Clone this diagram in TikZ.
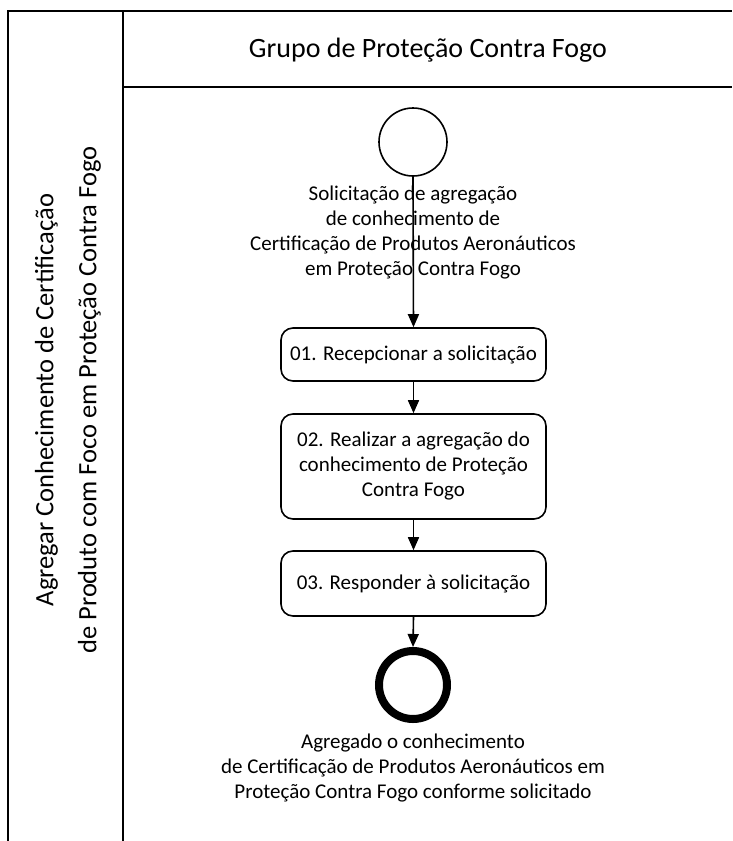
\documentclass[tikz,border=0pt]{standalone}
\usepackage{fontspec}
\setmainfont{Carlito}
\usetikzlibrary{arrows.meta}
\begin{document}
\begin{tikzpicture}[x=1pt,y=-1pt,
  lane/.style={line width=2pt},
  body/.style={font=\fontsize{21}{25}\selectfont, align=center},
  task/.style={draw, line width=1.6pt, rounded corners=12pt, minimum width=265pt, inner sep=0pt, body},
  flow/.style={line width=1.6pt, -{Triangle[length=13pt,width=11pt]}},
  startev/.style={draw, circle, line width=1.6pt, minimum size=68pt, inner sep=0pt},
  endev/.style={draw, circle, line width=8pt, minimum size=68pt, inner sep=0pt}
]
\useasboundingbox (0,0) rectangle (732,841);
% pool / lane frame
\coordinate (tl) at (8,11);
\coordinate (tr) at (732,11);
\coordinate (bl) at (8,841);
\coordinate (dt) at (123,11);
\coordinate (db) at (123,841);
\coordinate (hl) at (123,87);
\coordinate (hr) at (732,87);
\draw[lane] (bl) -- (tl) -- (tr);
\draw[lane] (dt) -- (db);
\draw[lane] (hl) -- (hr);
\node[font=\fontsize{28}{32}\selectfont] (hdr) at (428,50) {Grupo de Proteção Contra Fogo};
\node[rotate=90, align=center, font=\fontsize{26.5}{43}\selectfont] (lanelbl) at (68,400)
  {Agregar Conhecimento de Certificação\\de Produto com Foco em Proteção Contra Fogo};
% events and tasks
\node[startev] (start) at (413,142) {};
\node[body] (startlbl) at (413,233) {Solicitação de agregação\\de conhecimento de\\Certificação de Produtos Aeronáuticos\\em Proteção Contra Fogo};
\node[task, minimum height=53pt] (t1) at (413.5,354.5) {01. Recepcionar a solicitação};
\node[task, minimum height=105pt] (t2) at (413.5,466.5) {02. Realizar a agregação do\\conhecimento de Proteção\\Contra Fogo};
\node[task, minimum height=65pt] (t3) at (413.5,583.5) {03. Responder à solicitação};
\node[endev] (end) at (413,685) {};
\node[body] (endlbl) at (413,768) {Agregado o conhecimento\\de Certificação de Produtos Aeronáuticos em\\Proteção Contra Fogo conforme solicitado};
% flows
\draw[flow] (start.south) -- (t1.north);
\draw[flow] (t1.south) -- (t2.north);
\draw[flow] (t2.south) -- (t3.north);
\draw[flow] (t3.south) -- (end.north);
\end{tikzpicture}
\end{document}
